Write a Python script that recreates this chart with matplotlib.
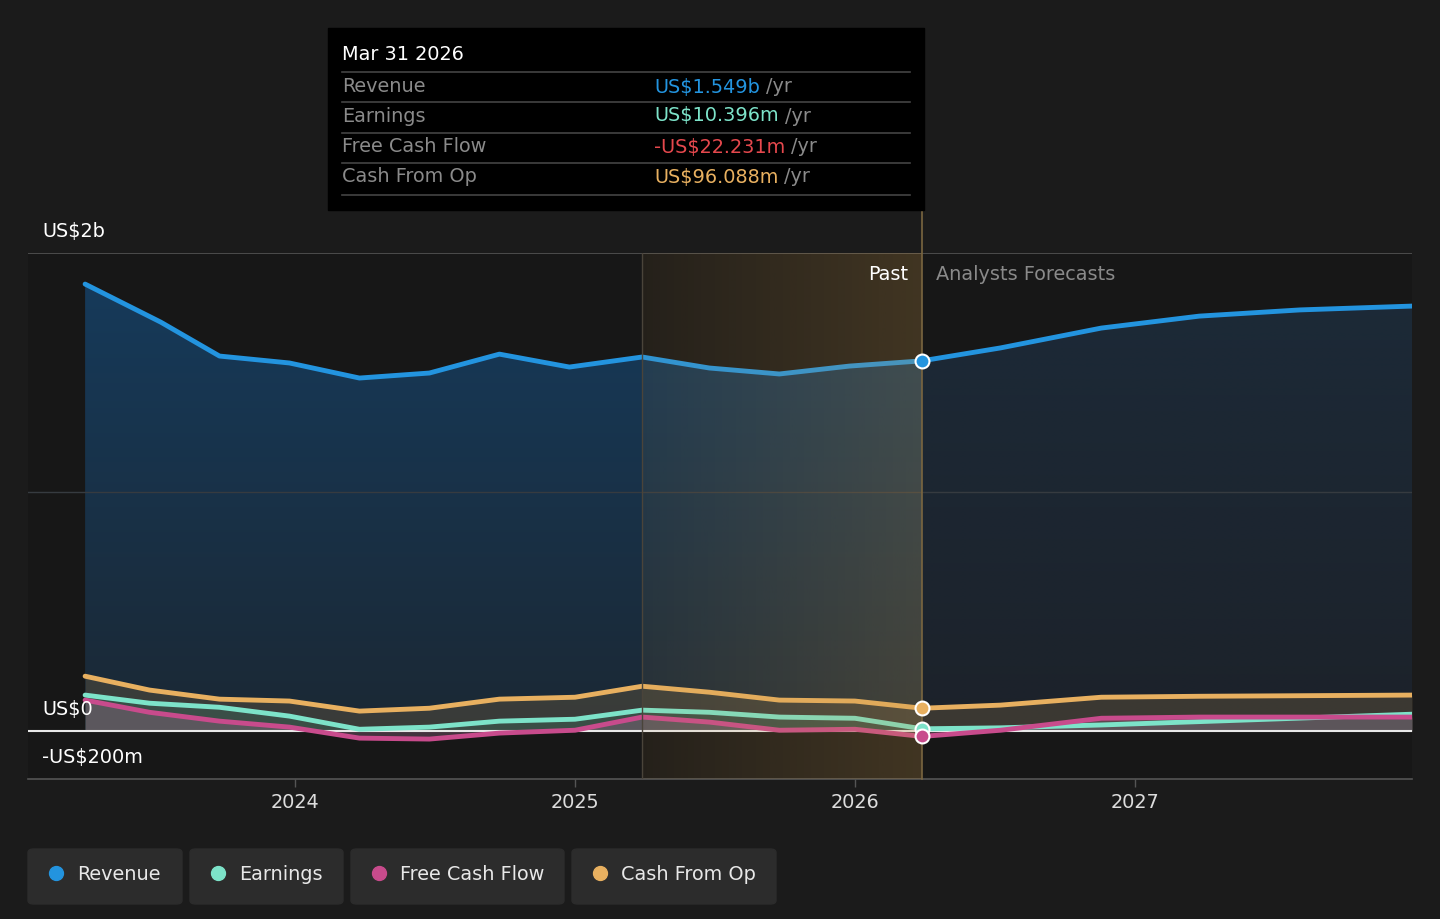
import matplotlib.pyplot as plt
import numpy as np
from matplotlib.patches import FancyBboxPatch, Rectangle, Polygon

# values (US$ millions), x in decimal years
rev_x = [2023.25, 2023.52, 2023.73, 2023.98, 2024.23, 2024.48, 2024.73, 2024.98, 2025.24,
         2025.48, 2025.73, 2025.98, 2026.24, 2026.52, 2026.88, 2027.23, 2027.59, 2027.99]
rev_y = [1870, 1711, 1569, 1540, 1477, 1498, 1577, 1523, 1565,
         1519, 1494, 1527, 1549, 1603, 1686, 1736, 1762, 1778]

cfo_x = [2023.25, 2023.48, 2023.73, 2023.98, 2024.23, 2024.48, 2024.73, 2025.0, 2025.24,
         2025.48, 2025.73, 2026.0, 2026.24, 2026.52, 2026.88, 2027.23, 2027.99]
cfo_y = [230, 172, 134, 126, 84, 96, 134, 142, 188,
         163, 130, 126, 96, 109, 142, 146, 151]

earn_x = [2023.25, 2023.48, 2023.73, 2023.98, 2024.23, 2024.48, 2024.73, 2025.0, 2025.24,
          2025.48, 2025.73, 2026.0, 2026.24, 2026.52, 2026.88, 2027.23, 2027.99]
earn_y = [151, 117, 100, 63, 8, 17, 42, 50, 88,
          79, 59, 54, 10, 14, 26, 40, 71]

fcf_x = [2023.25, 2023.48, 2023.73, 2023.98, 2024.23, 2024.48, 2024.73, 2025.0, 2025.24,
         2025.48, 2025.73, 2026.0, 2026.24, 2026.52, 2026.88, 2027.23, 2027.99]
fcf_y = [130, 79, 42, 17, -29, -33, -8, 4, 59,
         38, 4, 8, -22, 4, 54, 59, 59]

year_ticks = [2024, 2025, 2026, 2027]
past_start = 2025.24
past_end = 2026.24

tooltip_date = "Mar 31 2026"
tooltip_rows = [("Revenue", "US$1.549b", "#2394df"),
                ("Earnings", "US$10.396m", "#7de3c9"),
                ("Free Cash Flow", "-US$22.231m", "#e5484d"),
                ("Cash From Op", "US$96.088m", "#e8b060")]

C_REV = "#2394df"
C_EARN = "#7de3c9"
C_FCF = "#c84b8c"
C_CFO = "#e8b060"
BG = "#1b1b1b"
FS = 13.9

W, H = 1440, 919
fig = plt.figure(figsize=(W / 100, H / 100), dpi=100, facecolor=BG)


def fx(px):
    return px / W


def fy(py):
    return 1 - py / H


def vgrad(top, bottom, n=256):
    t = np.linspace(0, 1, n)[:, None]
    a = np.array(top)[None, :] / 255
    b = np.array(bottom)[None, :] / 255
    return (a * (1 - t) + b * t)[:, None, :]


ax = fig.add_axes([fx(28), fy(779), fx(1412) - fx(28), fy(253) - fy(779)])
ax.set_facecolor("#171717")
x0, x1 = 2023.046, 2027.99
ax.set_xlim(x0, x1)
ax.set_ylim(-200, 2000)

# revenue area: gradient, more saturated in the past part
ymax = max(rev_y)
poly = Polygon(list(zip(rev_x, rev_y)) + [(rev_x[-1], 0), (rev_x[0], 0)],
               closed=True, transform=ax.transData, facecolor="none", edgecolor="none")
ax.add_patch(poly)
im1 = ax.imshow(vgrad((22, 58, 90), (27, 40, 52)), extent=[rev_x[0], past_end, 0, ymax],
                aspect="auto", zorder=1, interpolation="bilinear")
im1.set_clip_path(poly)
im2 = ax.imshow(vgrad((28, 42, 56), (28, 34, 42)), extent=[past_end, rev_x[-1], 0, ymax],
                aspect="auto", zorder=1, interpolation="bilinear")
im2.set_clip_path(poly)

ax.fill_between(cfo_x, cfo_y, 0, color="#6a5a40", alpha=0.40, lw=0, zorder=1.1)
ax.fill_between(earn_x, earn_y, 0, color="#3f7a68", alpha=0.30, lw=0, zorder=1.2)
ax.fill_between(fcf_x, fcf_y, 0, color="#9a6a88", alpha=0.35, lw=0, zorder=1.3)

# grid lines
ax.axhline(2000, color="#555555", lw=1.2, zorder=2)
ax.axhline(1000, color="#363b40", lw=1, zorder=2)
ax.axhline(0, color="#e8e8e8", lw=1.5, zorder=2.5)

ax.plot(rev_x, rev_y, color=C_REV, lw=3.5, zorder=4, solid_capstyle="round", solid_joinstyle="round")
ax.plot(cfo_x, cfo_y, color=C_CFO, lw=3.5, zorder=4, solid_capstyle="round", solid_joinstyle="round")
ax.plot(earn_x, earn_y, color=C_EARN, lw=3.5, zorder=4, solid_capstyle="round", solid_joinstyle="round")
ax.plot(fcf_x, fcf_y, color=C_FCF, lw=3.5, zorder=4.1, solid_capstyle="round", solid_joinstyle="round")

# past band drawn over the lines, orange tint growing to the right
alpha = np.linspace(0.08, 0.24, 256)
band = np.zeros((1, 256, 4))
band[..., 0] = 200 / 255
band[..., 1] = 150 / 255
band[..., 2] = 70 / 255
band[..., 3] = alpha
ax.imshow(band, extent=[past_start, past_end, -200, 2000], aspect="auto", zorder=5,
          interpolation="bilinear")
ax.axvline(past_start, color="#4a443a", lw=1, zorder=5)

# markers at tooltip date
for xs, ys, c in [(rev_x, rev_y, C_REV), (cfo_x, cfo_y, C_CFO),
                  (earn_x, earn_y, C_EARN), (fcf_x, fcf_y, C_FCF)]:
    i = xs.index(past_end)
    ax.plot(xs[i], ys[i], "o", ms=10, mfc=c, mec="white", mew=1.5, zorder=6)

# past / forecast divider, extends up to tooltip
ax.plot([past_end, past_end], [-200, 2180], color="#7a6640", lw=1.2, zorder=5.5,
        clip_on=False)

for s in ["top", "left", "right"]:
    ax.spines[s].set_visible(False)
ax.spines["bottom"].set_color("#555555")
ax.spines["bottom"].set_linewidth(1.2)
ax.set_yticks([])
ax.set_xticks(year_ticks)
ax.set_xticklabels([str(y) for y in year_ticks], fontsize=FS)
ax.tick_params(axis="x", colors="#555555", length=6, width=1, pad=4,
               labelcolor="#dddddd")

# y labels
fig.text(fx(42), fy(232), "US$2b", color="white", fontsize=FS, va="center")
fig.text(fx(42), fy(710), "US$0", color="white", fontsize=FS, va="center")
fig.text(fx(42), fy(758), "-US$200m", color="white", fontsize=FS, va="center")

fig.text(fx(908), fy(274), "Past", color="white", fontsize=FS, va="center", ha="right")
fig.text(fx(936), fy(274), "Analysts Forecasts", color="#8a8a8a", fontsize=FS, va="center")

# tooltip
fig.patches.append(Rectangle((fx(328), fy(210)), fx(924) - fx(328), fy(28) - fy(210),
                             transform=fig.transFigure, color="black", zorder=10))
fig.text(fx(342), fy(55), tooltip_date, color="white", fontsize=FS, va="center", zorder=11)
for yy in [72, 102, 133, 163, 195]:
    fig.add_artist(plt.Line2D([fx(342), fx(910)], [fy(yy), fy(yy)], color="#444444",
                              lw=1.2, transform=fig.transFigure, zorder=11))
for (name, val, col), yy in zip(tooltip_rows, [87, 116, 147, 177]):
    fig.text(fx(342), fy(yy), name, color="#8a8a8a", fontsize=FS, va="center", zorder=11)
    t = fig.text(fx(654), fy(yy), val, color=col, fontsize=FS, va="center", zorder=11)
    fig.canvas.draw()
    bb = t.get_window_extent()
    fig.text(bb.x1 / W + fx(6), fy(yy), "/yr", color="#8a8a8a", fontsize=FS,
             va="center", zorder=11)

# legend buttons
legend = [("Revenue", C_REV, 28, 182), ("Earnings", C_EARN, 190, 343),
          ("Free Cash Flow", C_FCF, 351, 564), ("Cash From Op", C_CFO, 572, 776)]
for name, col, l, r in legend:
    fig.patches.append(FancyBboxPatch((fx(l), fy(904)), fx(r) - fx(l), fy(849) - fy(904),
                                      boxstyle="round,pad=0,rounding_size=0.004",
                                      transform=fig.transFigure, color="#2c2c2c", zorder=1))
    fig.add_artist(plt.Line2D([fx(l + 28)], [fy(873)], marker="o", ms=10, color=col,
                              transform=fig.transFigure, zorder=2))
    fig.text(fx(l + 49), fy(874), name, color="#e8e8e8", fontsize=FS, va="center")

fig.savefig("out.png", dpi=100, facecolor=BG)
